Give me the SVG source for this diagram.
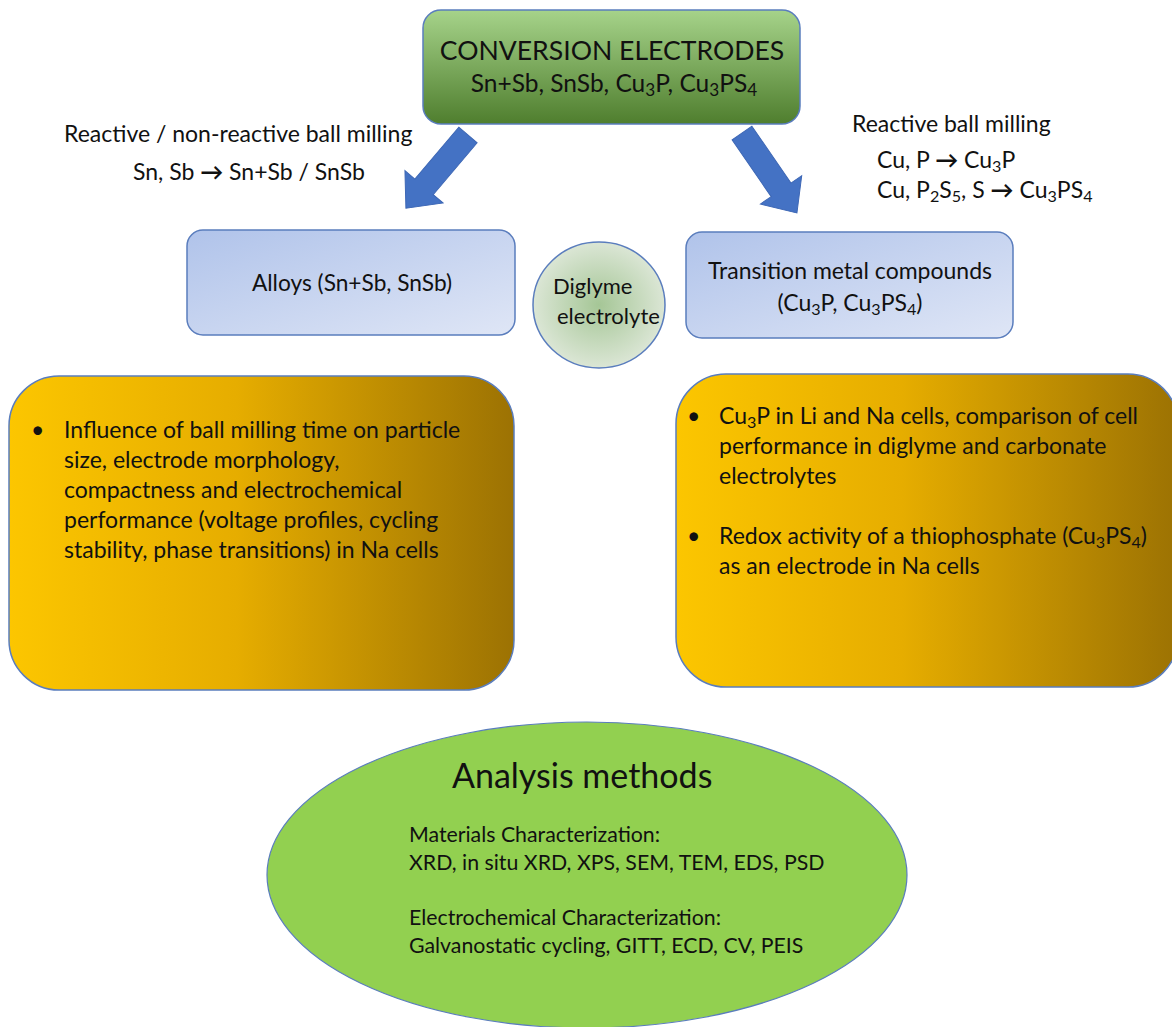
<svg xmlns="http://www.w3.org/2000/svg" width="1172" height="1027" viewBox="0 0 1172 1027">
<defs>
<linearGradient id="gGreen" x1="0" y1="0" x2="0" y2="1">
<stop offset="0" stop-color="#a6d38a"/>
<stop offset="1" stop-color="#4f7e2e"/>
</linearGradient>
<linearGradient id="gBlue" x1="0" y1="0" x2="1" y2="1">
<stop offset="0" stop-color="#b0c3ea"/>
<stop offset="1" stop-color="#dfe6f6"/>
</linearGradient>
<linearGradient id="gGold" x1="0" y1="0" x2="1" y2="0">
<stop offset="0" stop-color="#fcc600"/>
<stop offset="0.45" stop-color="#e6ad00"/>
<stop offset="1" stop-color="#9c7203"/>
</linearGradient>
<radialGradient id="gCircle" cx="0.5" cy="0.5" r="0.5">
<stop offset="0" stop-color="#a5c696"/>
<stop offset="1" stop-color="#dbe6d5"/>
</radialGradient>
<style>
text{font-family:Lato,"Liberation Sans",sans-serif;fill:#111;}
.t23{font-size:23px;}
.t21{font-size:21.3px;}
.sub{font-size:70%;}
.box{stroke:#5a7dbd;stroke-width:1.5;}
.arrow{fill:#4472c4;stroke:#3d67b5;stroke-width:1;}
</style>
</defs>
<rect width="1172" height="1027" fill="#ffffff"/>

<g id="connectors">
<polygon class="arrow" transform="translate(468,135) rotate(130.3)" points="0,-12 68,-12 68,-25 96,0 68,25 68,12 0,12"/>
<polygon class="arrow" transform="translate(742,133) rotate(55.5)" points="0,-12 69,-12 69,-25 97,0 69,25 69,12 0,12"/>
</g>

<g id="label-left">
<text class="t23" x="64" y="142">Reactive / non-reactive ball milling</text>
<text class="t23" x="133" y="180">Sn, Sb <tspan font-weight="bold">→</tspan> Sn+Sb / SnSb</text>
</g>

<g id="label-right">
<text class="t23" x="852" y="132">Reactive ball milling</text>
<text class="t23" x="877" y="168">Cu, P <tspan font-weight="bold">→</tspan> Cu<tspan class="sub" baseline-shift="-25%">3</tspan>P</text>
<text class="t23" x="877" y="198">Cu, P<tspan class="sub" baseline-shift="-25%">2</tspan>S<tspan class="sub" baseline-shift="-25%">5</tspan>, S <tspan font-weight="bold">→</tspan> Cu<tspan class="sub" baseline-shift="-25%">3</tspan>PS<tspan class="sub" baseline-shift="-25%">4</tspan></text>
</g>

<g id="conversion">
<rect class="box" x="423" y="10" width="377" height="114" rx="18" fill="url(#gGreen)"/>
<text x="612" y="60" text-anchor="middle" font-size="26.6">CONVERSION ELECTRODES</text>
<text x="614" y="92" text-anchor="middle" font-size="24.5">Sn+Sb, SnSb, Cu<tspan class="sub" baseline-shift="-25%">3</tspan>P, Cu<tspan class="sub" baseline-shift="-25%">3</tspan>PS<tspan class="sub" baseline-shift="-25%">4</tspan></text>
</g>

<g id="alloys">
<rect class="box" x="187" y="230" width="328" height="105" rx="16" fill="url(#gBlue)"/>
<text x="352" y="291" text-anchor="middle" font-size="22.7">Alloys (Sn+Sb, SnSb)</text>
</g>

<g id="diglyme">
<ellipse class="box" cx="599" cy="305" rx="66" ry="63" fill="url(#gCircle)"/>
<text x="553" y="294" font-size="22">Diglyme</text>
<text x="557" y="324" font-size="22">electrolyte</text>
</g>

<g id="transition">
<rect class="box" x="686" y="232" width="327" height="106" rx="16" fill="url(#gBlue)"/>
<text class="t23" x="850" y="279" text-anchor="middle">Transition metal compounds</text>
<text class="t23" x="850" y="311" text-anchor="middle">(Cu<tspan class="sub" baseline-shift="-25%">3</tspan>P, Cu<tspan class="sub" baseline-shift="-25%">3</tspan>PS<tspan class="sub" baseline-shift="-25%">4</tspan>)</text>
</g>

<g id="alloys-details">
<rect class="box" x="9" y="376" width="505" height="314" rx="50" fill="url(#gGold)"/>
<text class="t23" x="31" y="438">•</text>
<text class="t23" x="64" y="438">Influence of ball milling time on particle</text>
<text class="t23" x="64" y="468">size, electrode morphology,</text>
<text class="t23" x="64" y="498">compactness and electrochemical</text>
<text class="t23" x="64" y="528">performance (voltage profiles, cycling</text>
<text class="t23" x="64" y="558">stability, phase transitions) in Na cells</text>
</g>

<g id="transition-details">
<rect class="box" x="676" y="374" width="502" height="313" rx="50" fill="url(#gGold)"/>
<text class="t23" x="687" y="424">•</text>
<text class="t23" x="719" y="424">Cu<tspan class="sub" baseline-shift="-25%">3</tspan>P in Li and Na cells, comparison of cell</text>
<text class="t23" x="719" y="454">performance in diglyme and carbonate</text>
<text class="t23" x="719" y="484">electrolytes</text>
<text class="t23" x="687" y="544">•</text>
<text class="t23" x="719" y="544">Redox activity of a thiophosphate (Cu<tspan class="sub" baseline-shift="-25%">3</tspan>PS<tspan class="sub" baseline-shift="-25%">4</tspan>)</text>
<text class="t23" x="719" y="574">as an electrode in Na cells</text>
</g>

<g id="analysis">
<ellipse cx="587" cy="875" rx="320" ry="153" fill="#92d050" stroke="#5a7dbd" stroke-width="1.2"/>
<text x="452" y="788" font-size="34">Analysis methods</text>
<text class="t21" x="409" y="842">Materials Characterization:</text>
<text class="t21" x="409" y="870">XRD, in situ XRD, XPS, SEM, TEM, EDS, PSD</text>
<text class="t21" x="409" y="925">Electrochemical Characterization:</text>
<text class="t21" x="409" y="953">Galvanostatic cycling, GITT, ECD, CV, PEIS</text>
</g>
</svg>
